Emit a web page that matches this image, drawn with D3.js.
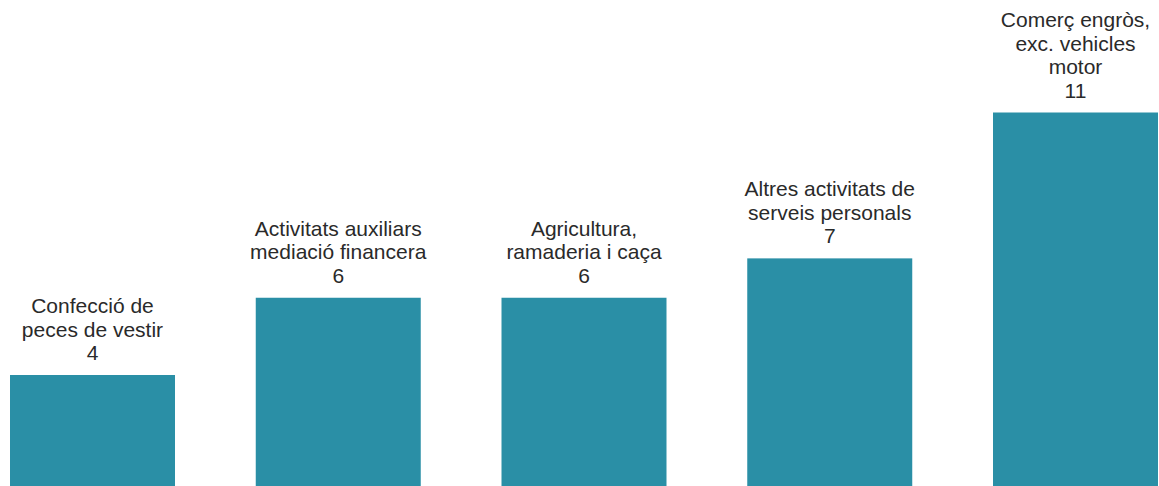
<!DOCTYPE html>
<html>
<head>
<meta charset="utf-8">
<script src="https://cdn.jsdelivr.net/npm/d3@7"></script>
<style>
  html, body { margin: 0; padding: 0; background: #fff; overflow: hidden; }
  svg { display: block; }
</style>
</head>
<body>
<svg id="chart" width="1159" height="486"></svg>
<script>
const categories = [
  ["Confecció de", "peces de vestir"],
  ["Activitats auxiliars", "mediació financera"],
  ["Agricultura,", "ramaderia i caça"],
  ["Altres activitats de", "serveis personals"],
  ["Comerç engròs,", "exc. vehicles", "motor"]
];
const values = [4.0, 6.06, 6.06, 7.11, 11.0];
const valueLabels = ["4", "6", "6", "7", "11"];

const svg = d3.select("#chart");
const x = d3.scaleBand()
  .domain(d3.range(categories.length))
  .range([10, 1158])
  .paddingInner(0.3286)
  .paddingOuter(0);
const y = d3.scaleLinear().domain([0, 11]).range([525, 112.5]);

svg.selectAll("rect.bar")
  .data(values)
  .join("rect")
  .attr("class", "bar")
  .attr("x", (d, i) => x(i))
  .attr("y", d => y(d))
  .attr("width", x.bandwidth())
  .attr("height", d => y(0) - y(d))
  .attr("fill", "#2a8fa6");

const lineH = 23.5;
const labels = svg.selectAll("text.lbl")
  .data(values)
  .join("text")
  .attr("class", "lbl")
  .attr("text-anchor", "middle")
  .attr("font-family", "'Liberation Sans', Arial, Helvetica, sans-serif")
  .attr("font-size", 21)
  .attr("fill", "#2a2a2a");

labels.each(function(d, i) {
  const lines = categories[i].concat([valueLabels[i]]);
  const cx = x(i) + x.bandwidth() / 2;
  const baseY = y(d) - 15;
  const n = lines.length;
  d3.select(this).selectAll("tspan")
    .data(lines)
    .join("tspan")
    .attr("x", cx)
    .attr("y", (t, j) => baseY - (n - 1 - j) * lineH)
    .text(t => t);
});
</script>
</body>
</html>
